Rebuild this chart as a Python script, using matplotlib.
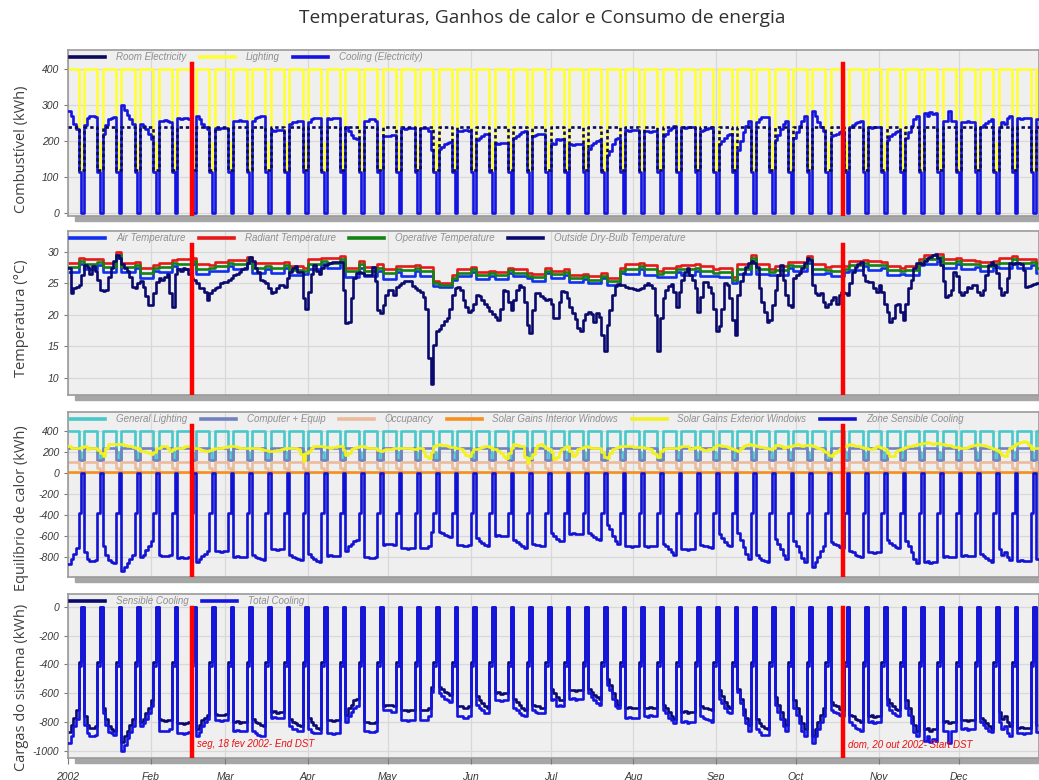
import numpy as np
import pandas as pd
import matplotlib.pyplot as plt
from matplotlib.lines import Line2D
from matplotlib.patches import Rectangle

plt.rcParams['font.family'] = ['Liberation Sans', 'DejaVu Sans']

# daily data, year 2002 (Jan 1 is a Tuesday)
dates = pd.date_range("2002-01-01", "2002-12-31", freq="D")
months = pd.date_range("2002-01-01", periods=12, freq="MS")
month_labels = ["2002", "Feb", "Mar", "Apr", "May", "Jun", "Jul", "Aug", "Sep", "Oct", "Nov", "Dec"]
dst_dates = [pd.Timestamp("2002-02-16 12:00"), pd.Timestamp("2002-10-18 12:00")]
dst_labels = ["seg, 18 fev 2002- End DST", "dom, 20 out 2002- Start DST"]

# outside dry-bulb temperature (C), one row per week
outside_temp = [
    [27.4, 23.4, 24.2, 24.5, 24.7, 26.3],
    [27.9, 27.6, 26.5, 27.8, 27.0, 25.5, 24.0], [23.8, 24.0, 26.0, 27.5, 28.5, 29.5, 29.0],
    [28.0, 27.5, 27.0, 26.0, 24.5, 24.2, 25.0], [25.3, 24.5, 23.0, 21.6, 21.5, 23.5, 25.2],
    [25.8, 25.5, 26.0, 26.5, 23.5, 21.3, 26.5], [27.3, 27.0, 27.5, 27.2, 26.5, 25.8, 25.5],
    [25.0, 24.2, 24.2, 23.6, 22.4, 23.5, 24.0], [24.3, 24.5, 25.0, 25.2, 25.2, 25.5, 25.8],
    [26.3, 26.5, 26.8, 27.2, 27.5, 28.2, 29.2], [28.5, 27.5, 26.8, 25.6, 25.3, 25.0, 24.2],
    [23.4, 23.7, 24.2, 24.7, 24.7, 24.5, 25.8], [26.8, 27.5, 27.8, 26.8, 26.8, 22.6, 21.0],
    [23.7, 26.5, 27.9, 27.0, 26.5, 27.5, 27.9], [28.0, 28.2, 28.4, 28.4, 28.4, 28.4, 24.0],
    [18.7, 18.8, 22.6, 25.8, 26.6, 26.8, 26.6], [26.3, 26.3, 26.3, 27.6, 25.3, 20.8, 20.3],
    [21.6, 23.2, 24.0, 24.0, 23.2, 24.5, 24.8], [25.0, 25.3, 25.4, 25.4, 24.6, 24.2, 24.0],
    [23.7, 22.9, 21.0, 13.2, 9.0, 15.3, 17.4], [17.8, 18.4, 19.0, 19.5, 21.0, 23.2, 24.2],
    [24.4, 24.0, 22.4, 21.3, 20.5, 20.8, 21.8], [23.2, 23.0, 22.4, 21.8, 21.3, 20.6, 20.1],
    [19.7, 19.2, 21.0, 24.0, 23.8, 22.1, 20.8], [22.4, 24.0, 24.7, 24.5, 22.1, 18.4, 17.1],
    [20.8, 23.4, 23.4, 23.0, 22.7, 22.4, 22.5], [21.8, 19.5, 19.5, 22.1, 23.8, 23.7, 22.6],
    [21.3, 20.3, 19.4, 17.9, 17.5, 19.2, 20.1], [20.5, 20.1, 18.9, 20.3, 19.7, 16.8, 14.2],
    [18.4, 20.8, 23.2, 24.6, 24.9, 24.8, 24.7], [24.5, 24.3, 24.2, 24.1, 24.0, 24.1, 24.2],
    [24.7, 25.0, 24.7, 24.2, 20.0, 14.2, 19.5], [22.6, 24.0, 24.6, 24.9, 23.7, 21.3, 23.7],
    [25.5, 26.8, 27.4, 26.3, 25.5, 24.2, 20.5], [22.9, 25.2, 25.2, 24.5, 23.4, 21.0, 17.4],
    [18.2, 21.0, 25.0, 24.7, 22.6, 19.2, 16.8], [23.2, 25.3, 26.6, 27.6, 28.2, 28.5, 28.2],
    [27.6, 24.2, 22.1, 20.5, 18.9, 19.2, 21.6], [24.0, 26.3, 27.9, 25.5, 23.2, 21.6, 21.3],
    [25.8, 26.3, 26.6, 27.4, 28.2, 29.0, 28.7], [24.7, 23.4, 23.2, 23.4, 22.1, 21.3, 21.7],
    [22.4, 22.9, 21.7, 23.2, 23.7, 23.4, 23.2], [25.0, 26.8, 27.6, 28.0, 28.4, 26.3, 25.3],
    [25.2, 25.2, 24.2, 23.7, 24.7, 23.7, 21.8], [20.5, 18.9, 19.5, 21.6, 21.8, 20.5, 19.2],
    [21.8, 24.2, 25.5, 27.4, 28.3, 28.2, 28.0], [28.5, 29.0, 29.1, 29.5, 29.6, 29.0, 27.9],
    [25.3, 22.9, 23.2, 24.0, 26.8, 26.1, 23.7], [23.2, 23.7, 24.5, 24.3, 24.7, 24.7, 23.7],
    [23.2, 24.0, 26.3, 27.9, 28.4, 27.9, 26.6], [24.2, 23.2, 23.7, 25.8, 28.2, 28.0, 28.2],
    [28.3, 28.0, 27.1, 24.5, 24.6, 24.8, 24.9],
    [25.0, 25.0],
]

# solar gains exterior windows (kWh), one row per week
solar_ext = [
    [256, 242, 242, 242, 242, 250],
    [258, 226, 235, 242, 242, 220, 194], [161, 240, 272, 280, 280, 278, 275],
    [274, 266, 258, 255, 250, 242, 235], [210, 205, 200, 194, 177, 200, 235],
    [242, 255, 258, 240, 210, 225, 242], [242, 242, 250, 258, 252, 242, 240],
    [234, 226, 218, 210, 210, 218, 226], [234, 242, 242, 246, 250, 255, 258],
    [258, 250, 242, 242, 242, 242, 242], [242, 238, 234, 226, 220, 215, 210],
    [210, 210, 215, 220, 226, 234, 242], [242, 242, 242, 230, 177, 113, 190],
    [210, 240, 258, 258, 258, 258, 250], [245, 242, 246, 250, 258, 260, 220],
    [170, 194, 225, 242, 250, 258, 255], [248, 242, 242, 242, 235, 220, 210],
    [215, 224, 226, 232, 242, 242, 242], [242, 242, 242, 236, 230, 226, 236],
    [242, 200, 160, 145, 200, 258, 266], [274, 270, 266, 258, 250, 245, 242],
    [236, 226, 200, 170, 161, 200, 226], [232, 242, 245, 255, 258, 245, 230],
    [226, 210, 194, 160, 140, 190, 242], [274, 266, 258, 258, 150, 97, 140],
    [177, 242, 266, 274, 260, 234, 226], [200, 129, 150, 200, 226, 250, 258],
    [210, 161, 180, 230, 242, 250, 258], [250, 242, 242, 242, 242, 200, 150],
    [145, 190, 226, 242, 250, 258, 258], [258, 258, 252, 248, 248, 248, 248],
    [242, 242, 230, 194, 177, 150, 210], [226, 235, 242, 242, 242, 240, 250],
    [258, 258, 258, 226, 240, 250, 250], [230, 215, 215, 226, 230, 250, 270],
    [266, 258, 258, 250, 242, 226, 215], [210, 240, 258, 266, 274, 270, 262],
    [258, 250, 245, 240, 234, 226, 240], [265, 270, 255, 242, 250, 256, 258],
    [262, 272, 266, 260, 262, 270, 270], [258, 250, 240, 226, 212, 200, 170],
    [160, 190, 210, 226, 250, 258, 262], [272, 268, 260, 258, 250, 242, 240],
    [230, 226, 240, 258, 250, 242, 226], [190, 165, 161, 200, 215, 232, 242],
    [245, 252, 258, 266, 272, 276, 282], [288, 292, 285, 280, 286, 285, 280],
    [274, 270, 262, 258, 250, 244, 242], [242, 242, 245, 255, 262, 270, 274],
    [266, 262, 256, 250, 242, 226, 215], [200, 170, 160, 210, 242, 260, 274],
    [285, 295, 300, 290, 262, 226, 235],
    [242, 242],
]

# weekday (Mon-Fri) values per week; Saturday / Sunday given separately
sensible_cooling_wd = [
    [-870, -820, -770, -720],
    [-760, -820, -840, -840, -830], [-700, -780, -830, -850, -860], [-940, -900, -860, -820, -780],
    [-800, -780, -740, -700, -650], [-780, -790, -795, -790, -785], [-810, -805, -815, -810, -800],
    [-850, -820, -790, -770, -750], [-745, -750, -755, -750, -745], [-800, -795, -805, -800, -800],
    [-780, -800, -810, -820, -830], [-730, -725, -735, -730, -730], [-780, -800, -810, -820, -830],
    [-770, -800, -820, -840, -850], [-790, -785, -795, -790, -790], [-750, -700, -680, -650, -640],
    [-800, -800, -810, -810, -800], [-690, -680, -680, -680, -690], [-720, -715, -725, -720, -720],
    [-720, -720, -720, -700, -560], [-560, -570, -590, -600, -610], [-690, -690, -700, -700, -690],
    [-620, -650, -670, -690, -700], [-600, -595, -605, -600, -600], [-640, -660, -680, -700, -720],
    [-680, -690, -690, -700, -700], [-570, -600, -630, -650, -650], [-580, -575, -585, -580, -580],
    [-570, -590, -610, -630, -640], [-500, -540, -600, -650, -680], [-700, -695, -705, -700, -700],
    [-700, -705, -695, -700, -700], [-680, -700, -730, -760, -780], [-730, -725, -735, -730, -730],
    [-690, -700, -700, -710, -720], [-580, -620, -660, -690, -700], [-570, -640, -710, -770, -820],
    [-780, -810, -830, -840, -850], [-630, -680, -730, -780, -820], [-650, -700, -760, -810, -850],
    [-900, -850, -800, -750, -700], [-660, -680, -690, -710, -720], [-750, -760, -780, -790, -800],
    [-760, -755, -765, -760, -760], [-640, -670, -690, -710, -720], [-650, -700, -760, -820, -860],
    [-850, -840, -860, -850, -850], [-800, -795, -805, -800, -800], [-790, -785, -795, -790, -790],
    [-770, -790, -810, -830, -850], [-730, -780, -760, -800, -830], [-840, -835, -845, -840, -840],
    [-820, -820],
]
total_cooling_wd = [
    [-950, -900, -830, -780],
    [-820, -880, -900, -900, -890], [-740, -820, -870, -880, -890], [-1000, -960, -910, -870, -830],
    [-830, -810, -780, -740, -690], [-860, -860, -865, -860, -850], [-880, -875, -885, -880, -870],
    [-900, -870, -830, -800, -780], [-790, -785, -795, -790, -790], [-860, -855, -865, -860, -860],
    [-860, -880, -890, -900, -900], [-770, -765, -775, -770, -770], [-830, -850, -850, -860, -860],
    [-850, -870, -880, -880, -880], [-880, -875, -885, -880, -880], [-800, -760, -730, -700, -690],
    [-860, -860, -870, -870, -860], [-720, -720, -720, -730, -730], [-790, -785, -795, -790, -790],
    [-790, -790, -790, -760, -590], [-600, -620, -640, -650, -660], [-760, -760, -770, -770, -760],
    [-680, -700, -720, -740, -740], [-650, -645, -655, -650, -650], [-700, -720, -740, -750, -760],
    [-720, -730, -740, -740, -740], [-650, -640, -690, -680, -690], [-640, -635, -645, -640, -640],
    [-600, -630, -650, -670, -680], [-540, -580, -640, -690, -700], [-770, -765, -775, -770, -770],
    [-760, -765, -755, -760, -760], [-720, -740, -770, -790, -810], [-800, -795, -805, -800, -800],
    [-760, -770, -780, -790, -800], [-640, -670, -700, -730, -740], [-590, -670, -750, -810, -860],
    [-850, -870, -890, -890, -890], [-680, -730, -780, -830, -860], [-700, -750, -810, -860, -900],
    [-950, -900, -850, -800, -760], [-720, -730, -740, -750, -760], [-800, -820, -840, -850, -860],
    [-800, -795, -805, -800, -800], [-680, -720, -740, -750, -760], [-700, -750, -810, -870, -900],
    [-930, -900, -940, -920, -930], [-860, -860, -950, -860, -860], [-850, -845, -855, -850, -850],
    [-800, -820, -840, -860, -870], [-800, -850, -830, -880, -900], [-880, -875, -885, -880, -880],
    [-870, -870],
]
cooling_elec_wd = [
    [284, 269, 248, 233],
    [245, 263, 269, 269, 266], [221, 245, 260, 263, 266], [299, 287, 272, 260, 248],
    [248, 242, 233, 221, 206], [257, 257, 258, 257, 254], [263, 261, 264, 263, 260],
    [269, 260, 248, 239, 233], [236, 234, 237, 236, 236], [257, 255, 258, 257, 257],
    [257, 263, 266, 269, 269], [230, 228, 231, 230, 230], [248, 254, 254, 257, 257],
    [254, 260, 263, 263, 263], [263, 261, 264, 263, 263], [239, 227, 218, 209, 206],
    [257, 257, 260, 260, 257], [215, 215, 215, 218, 218], [236, 234, 237, 236, 236],
    [236, 236, 236, 227, 176], [179, 185, 191, 194, 197], [227, 227, 230, 230, 227],
    [203, 209, 215, 221, 221], [194, 192, 195, 194, 194], [209, 215, 221, 224, 227],
    [215, 218, 221, 221, 221], [194, 191, 206, 203, 206], [191, 189, 192, 191, 191],
    [179, 188, 194, 200, 203], [161, 173, 191, 206, 209], [230, 228, 231, 230, 230],
    [227, 228, 225, 227, 227], [215, 221, 230, 236, 242], [239, 237, 240, 239, 239],
    [227, 230, 233, 236, 239], [191, 200, 209, 218, 221], [176, 200, 224, 242, 257],
    [254, 260, 266, 266, 266], [203, 218, 233, 248, 257], [209, 224, 242, 257, 269],
    [284, 269, 254, 239, 227], [215, 218, 221, 224, 227], [239, 245, 251, 254, 257],
    [239, 237, 240, 239, 239], [203, 215, 221, 224, 227], [209, 224, 242, 260, 269],
    [278, 269, 281, 275, 278], [257, 257, 284, 257, 257], [254, 252, 255, 254, 254],
    [239, 245, 251, 257, 260], [239, 254, 248, 263, 269], [263, 261, 264, 263, 263],
    [260, 260],
]
sensible_cooling_sat, sensible_cooling_sun = -380, 0
total_cooling_sat, total_cooling_sun = -410, 0
cooling_elec_sat, cooling_elec_sun = 115, 0

# constant schedules: (weekday, saturday, sunday)
room_elec = (240, 120, 120)
lighting = (400, 195, 120)
computer_equip = (240, 120, 120)
occupancy = (100, 50, 0)
solar_int = (5, 5, 5)

# indoor temperatures: one value per week for weekdays and for weekends
radiant_wd = [28.3, 28.8, 28.3, 28.3, 27.4, 28.3, 28.8, 28.0, 28.4, 28.7, 28.2, 28.2, 27.8, 28.8, 29.0,
              27.5, 27.6, 27.2, 27.7, 27.6, 25.0, 27.2, 26.8, 26.8, 27.2, 26.5, 27.0, 26.3, 26.1, 25.8,
              28.0, 27.9, 27.5, 27.9, 27.7, 27.5, 28.0, 28.0, 27.8, 28.4, 28.0, 27.7, 28.6, 28.6, 27.8,
              27.8, 29.5, 28.9, 28.7, 28.4, 29.0, 28.9, 28.2]
radiant_we = [29.0, 28.9, 30.0, 28.4, 27.9, 28.7, 29.0, 27.9, 28.7, 29.2, 28.2, 28.4, 27.5, 29.0, 29.4,
              28.5, 28.0, 27.8, 27.9, 25.3, 26.3, 27.6, 27.0, 27.5, 26.6, 27.4, 27.2, 26.5, 26.6, 27.4,
              28.2, 27.0, 27.8, 28.0, 27.2, 26.0, 29.5, 27.3, 28.4, 29.3, 27.6, 27.8, 28.7, 28.4, 27.5,
              28.9, 29.6, 29.0, 28.6, 28.6, 29.3, 28.9, 28.2]
operative_wd = [27.6, 28.1, 27.6, 27.6, 26.7, 27.6, 28.1, 27.3, 27.7, 28.0, 27.5, 27.5, 27.1, 28.1, 28.3,
                26.9, 27.0, 26.6, 27.1, 27.0, 24.7, 26.6, 26.3, 26.3, 26.7, 26.0, 26.5, 25.8, 25.6, 25.3,
                27.3, 27.2, 26.8, 27.2, 27.0, 26.8, 27.3, 27.3, 27.1, 27.7, 27.3, 27.0, 27.9, 27.9, 27.1,
                27.1, 28.8, 28.2, 28.0, 27.7, 28.3, 28.2, 27.5]
operative_we = [28.5, 28.4, 29.5, 27.9, 27.4, 28.2, 28.5, 27.4, 28.2, 28.7, 27.7, 27.9, 27.0, 28.5, 28.9,
                28.0, 27.5, 27.3, 27.4, 25.0, 25.9, 27.2, 26.6, 27.1, 26.2, 27.0, 26.8, 26.1, 26.2, 27.0,
                27.7, 26.5, 27.3, 27.5, 26.7, 25.6, 29.0, 26.8, 27.9, 28.8, 27.1, 27.3, 28.2, 27.9, 27.0,
                28.4, 29.1, 28.5, 28.1, 28.1, 28.8, 28.4, 27.7]
air_wd = [26.8, 27.3, 26.8, 26.8, 25.9, 26.8, 27.3, 26.5, 26.9, 27.2, 26.7, 26.7, 26.3, 27.3, 27.5,
          26.0, 26.1, 25.7, 26.2, 26.1, 24.4, 26.1, 25.7, 25.7, 26.1, 25.4, 25.9, 25.2, 25.0, 24.7,
          26.5, 26.4, 26.0, 26.4, 26.2, 26.0, 26.5, 26.5, 26.3, 26.9, 26.5, 26.2, 27.1, 27.1, 26.3,
          26.3, 28.0, 27.4, 27.2, 26.9, 27.5, 27.4, 26.7]
air_we = [28.0, 27.9, 29.0, 27.4, 26.9, 27.7, 28.0, 26.9, 27.7, 28.2, 27.2, 27.4, 26.5, 28.0, 28.4,
          27.5, 27.0, 26.8, 26.9, 24.6, 25.5, 26.8, 26.2, 26.7, 25.8, 26.6, 26.4, 25.7, 25.8, 26.6,
          27.2, 26.0, 26.8, 27.0, 26.2, 25.0, 28.5, 26.3, 27.4, 28.3, 26.6, 26.8, 27.7, 27.4, 26.5,
          27.9, 28.6, 28.0, 27.6, 27.6, 28.3, 27.9, 27.2]

dow = dates.dayofweek.to_numpy()
week_no = (np.arange(len(dates)) + 1) // 7


def flat(rows):
    return np.array([v for row in rows for v in row], dtype=float)


def by_daytype(weekday_rows, sat, sun):
    it = iter(flat(weekday_rows))
    return np.array([sat if d == 5 else sun if d == 6 else next(it) for d in dow], dtype=float)


def schedule(vals):
    wd, sat, sun = vals
    return np.where(dow == 5, sat, np.where(dow == 6, sun, wd)).astype(float)


def by_week(wd, we):
    return np.where(dow >= 5, np.asarray(we)[week_no], np.asarray(wd)[week_no])


W, H = 1039, 780
fig = plt.figure(figsize=(W / 100, H / 100), dpi=100)
fig.text(542 / W, 1 - 18 / H, "Temperaturas, Ganhos de calor e Consumo de energia", ha="center", va="center",
         fontsize=13.8, family="Open Sans", color="#303030")

panels = [(50, 216), (231, 395), (412, 577), (594, 758)]
label_y = [0.40, 0.47, 0.42, 0.43]
axes = []
for top, bot in panels:
    rect = [68 / W, 1 - bot / H, 970.5 / W, (bot - top) / H]
    fig.patches.append(Rectangle((rect[0] + 7 / W, rect[1] - 5 / H), rect[2], rect[3],
                                 transform=fig.transFigure, color="#a6a6a6", zorder=0))
    ax = fig.add_axes(rect, zorder=1)
    ax.set_facecolor("#efefef")
    for s in ax.spines.values():
        s.set_color("#9a9a9a")
        s.set_linewidth(1.2)
    ax.set_xlim(dates[0], pd.Timestamp("2002-12-31"))
    ax.set_xticks(months)
    ax.grid(True, color="#d8d8d8", lw=0.9)
    ax.set_axisbelow(True)
    axes.append(ax)

lw = 1.9
step = dict(drawstyle="steps-post", lw=lw)

# panel 1: fuel / electricity
ax = axes[0]
ax.plot(dates, schedule(lighting), color="#ffff33", zorder=2, **step)
ax.plot(dates, by_daytype(cooling_elec_wd, cooling_elec_sat, cooling_elec_sun), color="#1414e0", zorder=3, **step)
ax.plot(dates, schedule(room_elec), color="#0a0a5a", zorder=4, ls=(0, (1.3, 1.1)), **step)
ax.set_ylim(-8, 453)
ax.set_yticks([0, 100, 200, 300, 400], ["0", "100", "200", "300", "400"], fontstyle="italic")
ax.set_ylabel("Combustível (kWh)")
leg1 = [("Room Electricity", "#0a0a5a"), ("Lighting", "#ffff33"), ("Cooling (Electricity)", "#1414e0")]

# panel 2: temperatures
ax = axes[1]
ax.plot(dates, by_week(air_wd, air_we), color="#1030f0", zorder=2, **step)
ax.plot(dates, by_week(radiant_wd, radiant_we), color="#e81818", zorder=2, **step)
ax.plot(dates, by_week(operative_wd, operative_we), color="#148214", zorder=3, **step)
ax.plot(dates, flat(outside_temp), color="#0a0a6e", zorder=4, **step)
ax.set_ylim(7.3, 33.3)
ax.set_yticks([10, 15, 20, 25, 30], ["10", "15", "20", "25", "30"], fontstyle="italic")
ax.set_ylabel("Temperatura (°C)")
leg2 = [("Air Temperature", "#1030f0"), ("Radiant Temperature", "#e81818"),
        ("Operative Temperature", "#148214"), ("Outside Dry-Bulb Temperature", "#0a0a6e")]

# panel 3: heat balance
sens = by_daytype(sensible_cooling_wd, sensible_cooling_sat, sensible_cooling_sun)
ax = axes[2]
ax.plot(dates, schedule(lighting), color="#48c8c8", zorder=2, **step)
ax.plot(dates, schedule(computer_equip), color="#7282c0", zorder=2, **step)
ax.plot(dates, schedule(occupancy), color="#ebbb9c", zorder=2, **step)
ax.plot(dates, schedule(solar_int), color="#f5901e", zorder=3, **step)
ax.plot(dates, flat(solar_ext), color="#f2f21e", zorder=3, **step)
ax.plot(dates, sens, color="#1212d2", zorder=4, **step)
ax.set_ylim(-994, 581)
ax.set_yticks(range(-800, 401, 200), [str(v) for v in range(-800, 401, 200)], fontstyle="italic")
ax.set_ylabel("Equilíbrio de calor (kWh)")
leg3 = [("General Lighting", "#48c8c8"), ("Computer + Equip", "#7282c0"), ("Occupancy", "#ebbb9c"),
        ("Solar Gains Interior Windows", "#f5901e"), ("Solar Gains Exterior Windows", "#f2f21e"),
        ("Zone Sensible Cooling", "#1212d2")]

# panel 4: system loads
ax = axes[3]
ax.plot(dates, sens, color="#0a0a6e", zorder=2, **step)
ax.plot(dates, by_daytype(total_cooling_wd, total_cooling_sat, total_cooling_sun), color="#1414e0", zorder=3, **step)
ax.set_ylim(-1051, 90)
ax.set_yticks(range(-1000, 1, 200), [str(v) for v in range(-1000, 1, 200)], fontstyle="italic")
ax.set_ylabel("Cargas do sistema (kWh)")
leg4 = [("Sensible Cooling", "#0a0a6e"), ("Total Cooling", "#1414e0")]
for x, txt in zip(dst_dates, dst_labels):
    ax.text(x + pd.Timedelta(days=2), -955, txt, color="#e81010", fontsize=7, style="italic", va="center")

for i, (ax, items) in enumerate(zip(axes, [leg1, leg2, leg3, leg4])):
    handles = [Line2D([], [], color=c, lw=2.6) for _, c in items]
    ax.legend(handles, [t for t, _ in items], loc="upper left", bbox_to_anchor=(0.0, 1.0), ncol=len(items),
              frameon=False, prop={"size": 7, "style": "italic"}, labelcolor="#8f8f8f", handlelength=3.6,
              handletextpad=1.1, columnspacing=1.4, borderaxespad=0.1, borderpad=0.15)
    for x in dst_dates:
        ax.axvline(x, ymin=0, ymax=0.915, color="#ff0000", lw=3.2, zorder=6)
    ax.yaxis.label.set_fontsize(10.5)
    ax.yaxis.label.set_family("Open Sans")
    ax.yaxis.label.set_color("#404040")
    ax.yaxis.set_label_coords(-0.040, label_y[i])
    ax.tick_params(axis="y", labelsize=7.5, labelcolor="#383838", color="#7a7a7a", length=3)
    if i < 3:
        ax.tick_params(axis="x", length=0, labelbottom=False)
    else:
        ax.set_xticks(months, month_labels, fontstyle="italic")
        ax.tick_params(axis="x", labelsize=7.5, labelcolor="#383838", color="#7a7a7a", length=4, pad=6)

fig.savefig("out.png", dpi=100)
